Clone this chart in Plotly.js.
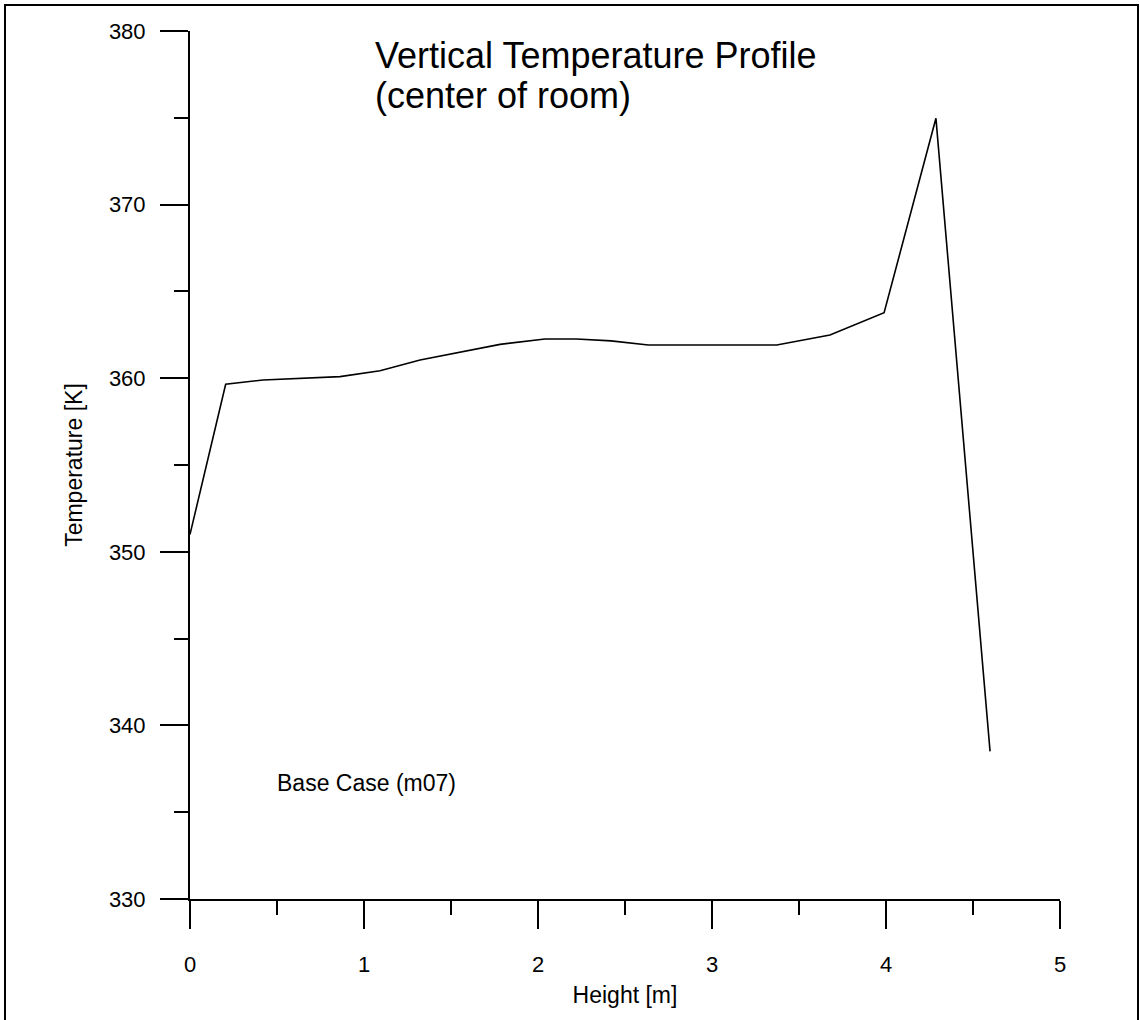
<!DOCTYPE html>
<html>
<head>
<meta charset="utf-8">
<script src="https://cdn.plot.ly/plotly-3.0.1.min.js"></script>
<style>
html,body{margin:0;padding:0;background:#fff;}
#chart{width:1140px;height:1020px;}
</style>
</head>
<body>
<div id="chart"></div>
<script>
// Height [m]
const heights = [0.0, 0.205, 0.42, 0.862, 1.092, 1.322, 1.782, 2.04, 2.222, 2.42, 2.634, 3.372, 3.678, 3.989, 4.287, 4.598];
// Temperature [K]
const temps = [351.0, 359.65, 359.9, 360.09, 360.43, 361.05, 361.95, 362.26, 362.26, 362.15, 361.91, 361.91, 362.49, 363.77, 374.97, 338.5];

const titleLine1 = "Vertical Temperature Profile";
const titleLine2 = "(center of room)";
const caseLabel = "Base Case (m07)";
const xTitle = "Height [m]";
const yTitle = "Temperature [K]";

const font = "Liberation Sans, Arial, sans-serif";

const trace = {
  x: heights,
  y: temps,
  type: "scatter",
  mode: "lines",
  line: {color: "#000", width: 1.6},
  hoverinfo: "skip"
};

const layout = {
  width: 1140,
  height: 1020,
  margin: {l: 190, r: 80, t: 31, b: 121},
  paper_bgcolor: "#fff",
  plot_bgcolor: "#fff",
  showlegend: false,
  font: {family: font, color: "#000", size: 22},
  xaxis: {
    range: [0, 5],
    tickvals: [0, 1, 2, 3, 4, 5],
    ticktext: ["0", "1", "2", "3", "4", "5"],
    ticks: "outside",
    ticklen: 28,
    tickwidth: 2,
    tickcolor: "#000",
    ticklabelstandoff: 17,
    minor: {ticks: "outside", ticklen: 14, tickwidth: 2, tickcolor: "#000", tickvals: [0.5, 1.5, 2.5, 3.5, 4.5]},
    showline: true,
    linecolor: "#000",
    linewidth: 2,
    showgrid: false,
    zeroline: false,
    tickfont: {family: font, size: 22, color: "#000"},
    title: {text: xTitle, font: {family: font, size: 23, color: "#000"}, standoff: 10}
  },
  yaxis: {
    range: [330, 380],
    tickvals: [330, 340, 350, 360, 370, 380],
    ticks: "outside",
    ticklen: 28,
    tickwidth: 2,
    tickcolor: "#000",
    ticklabelstandoff: 10,
    minor: {ticks: "outside", ticklen: 14, tickwidth: 2, tickcolor: "#000", tickvals: [335, 345, 355, 365, 375]},
    showline: true,
    linecolor: "#000",
    linewidth: 2,
    showgrid: false,
    zeroline: false,
    tickfont: {family: font, size: 22, color: "#000"},
    title: {text: yTitle, font: {family: font, size: 23, color: "#000"}, standoff: 20}
  },
  annotations: [
    {x: 1.05, y: 378.6, xref: "x", yref: "y", text: titleLine1, showarrow: false,
     xanchor: "left", yanchor: "middle", font: {family: font, size: 36, color: "#000"}},
    {x: 1.05, y: 376.3, xref: "x", yref: "y", text: titleLine2, showarrow: false,
     xanchor: "left", yanchor: "middle", font: {family: font, size: 36, color: "#000"}},
    {x: 0.49, y: 336.7, xref: "x", yref: "y", text: caseLabel, showarrow: false,
     xanchor: "left", yanchor: "middle", font: {family: font, size: 23, color: "#000"}}
  ],
  shapes: [
    {type: "rect", xref: "paper", yref: "paper",
     x0: (5 - 190) / 870, x1: (1138 - 190) / 870,
     y0: (899 - 1030) / 868, y1: (899 - 5) / 868,
     line: {color: "#000", width: 2}, fillcolor: "rgba(0,0,0,0)", layer: "below"}
  ]
};

Plotly.newPlot("chart", [trace], layout, {displayModeBar: false, staticPlot: true});
</script>
</body>
</html>
